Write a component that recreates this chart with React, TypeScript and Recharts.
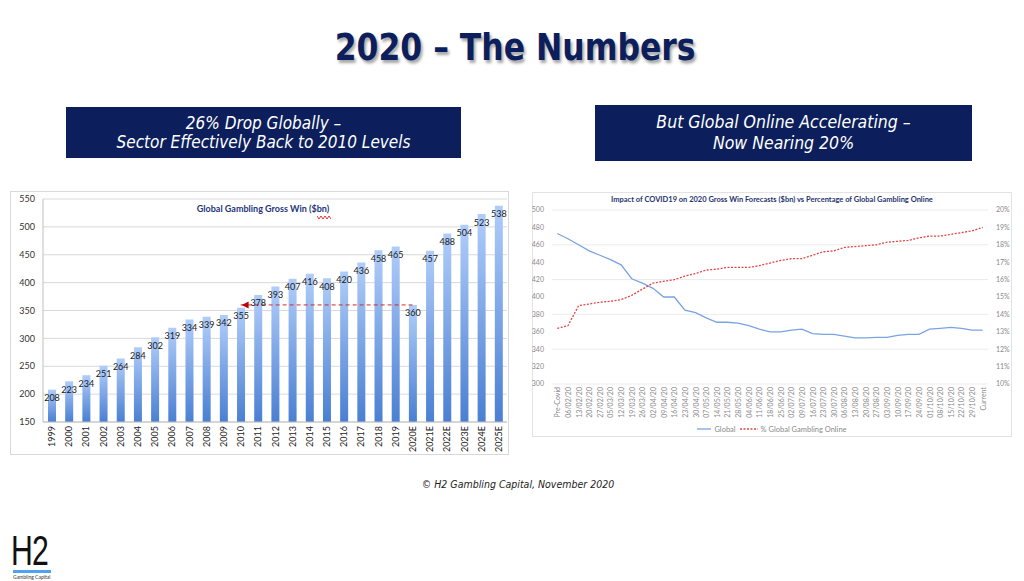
import React from "react";
import {
  BarChart, Bar, XAxis, YAxis, CartesianGrid, LabelList, ReferenceLine, ReferenceDot,
  LineChart, Line, Legend,
} from "recharts";

const years = [
  "1999", "2000", "2001", "2002", "2003", "2004", "2005", "2006", "2007", "2008", "2009",
  "2010", "2011", "2012", "2013", "2014", "2015", "2016", "2017", "2018", "2019",
  "2020E", "2021E", "2022E", "2023E", "2024E", "2025E",
];
const grossWin = [
  208, 223, 234, 251, 264, 284, 302, 319, 334, 339, 342,
  355, 378, 393, 407, 416, 408, 420, 436, 458, 465,
  360, 457, 488, 504, 523, 538,
];
const barTicks = [150, 200, 250, 300, 350, 400, 450, 500, 550];

const weeks = [
  "Pre-Covid", "06/02/20", "13/02/20", "20/02/20", "27/02/20", "05/03/20", "12/03/20",
  "19/03/20", "26/03/20", "02/04/20", "09/04/20", "16/04/20", "23/04/20", "30/04/20",
  "07/05/20", "14/05/20", "21/05/20", "28/05/20", "04/06/20", "11/06/20", "18/06/20",
  "25/06/20", "02/07/20", "09/07/20", "16/07/20", "23/07/20", "30/07/20", "06/08/20",
  "13/08/20", "20/08/20", "27/08/20", "03/09/20", "10/09/20", "17/09/20", "24/09/20",
  "01/10/20", "08/10/20", "15/10/20", "22/10/20", "29/10/20", "Current",
];
const globalWin = [
  473, 467, 460, 453, 448, 443, 437, 421, 416, 410, 400, 400, 385, 382,
  376, 371, 371, 370, 367, 363, 360, 360, 362, 363, 358, 357, 357, 355,
  353, 353, 353.5, 353.5, 356, 357, 357, 363, 364, 365, 364, 362, 362,
];
const onlinePct = [
  13.2, 13.35, 14.5, 14.6, 14.7, 14.75, 14.85, 15.1, 15.45, 15.8, 15.9, 16.0, 16.2, 16.35,
  16.55, 16.6, 16.7, 16.7, 16.7, 16.8, 16.95, 17.1, 17.2, 17.2, 17.4, 17.6, 17.65, 17.85,
  17.9, 17.95, 18.0, 18.15, 18.2, 18.25, 18.4, 18.5, 18.5, 18.6, 18.7, 18.8, 19.0,
];
const winTicks = [300, 320, 340, 360, 380, 400, 420, 440, 460, 480, 500];
const pctTicks = [10, 11, 12, 13, 14, 15, 16, 17, 18, 19, 20];

const barData = years.map((year, i) => ({ year, value: grossWin[i] }));
const lineData = weeks.map((week, i) => ({ week, global: globalWin[i], online: onlinePct[i] }));

const NAVY = "#0c1f5c";
const NARROW = "'Liberation Sans Narrow', 'DejaVu Sans Condensed', sans-serif";

function BarValueLabel(props: any) {
  const { x, y, width, value } = props;
  return (
    <text x={x + width / 2} y={y + 11.5} textAnchor="middle" fontSize={9} fill="#1a1a1a" fontFamily="Lato">
      {value}
    </text>
  );
}

function YearTick(props: any) {
  const { x, y, payload } = props;
  return (
    <text x={x} y={y} transform={`rotate(-90, ${x}, ${y})`} textAnchor="end" dominantBaseline="central"
      fontSize={9} fill="#222" fontFamily="Lato">
      {payload.value}
    </text>
  );
}

function WeekTick(props: any) {
  const { x, y, payload } = props;
  return (
    <text x={x} y={y} transform={`rotate(-90, ${x}, ${y})`} textAnchor="end" dominantBaseline="central"
      fontSize={7} fill="#8a8a8a" fontFamily="Lato">
      {payload.value}
    </text>
  );
}

function ArrowHead(props: any) {
  const { cx, cy } = props;
  return <polygon points={`${cx + 1},${cy} ${cx + 8},${cy - 3.5} ${cx + 8},${cy + 3.5}`} fill="#c00000" />;
}

function LineLegend() {
  return (
    <div style={{ display: "flex", justifyContent: "center", alignItems: "center", height: 14,
      fontFamily: "Lato", fontSize: 7.5, color: "#8a8a8a" }}>
      <svg width={14} height={4}><line x1={0} y1={2} x2={14} y2={2} stroke="#7aa3e2" strokeWidth={1.3} /></svg>
      <span style={{ marginLeft: 3, marginRight: 4 }}>Global</span>
      <svg width={18} height={4}><line x1={0} y1={2} x2={18} y2={2} stroke="#e64545" strokeWidth={1.3} strokeDasharray="2 1.5" /></svg>
      <span style={{ marginLeft: 3 }}>% Global Gambling Online</span>
    </div>
  );
}

export default function App() {
  return (
    <div style={{ position: "absolute", left: 0, top: 0, width: 1024, height: 581, background: "#fff", overflow: "hidden" }}>
      {/* slide title */}
      <div style={{ position: "absolute", left: 0, top: 25, width: 1030, textAlign: "center" }}>
        <span style={{ display: "inline-block", fontFamily: NARROW, fontWeight: 700, fontSize: 38, color: NAVY,
          textShadow: "2px 3px 3px rgba(0,0,0,0.35)", transform: "scaleX(0.92)" }}>
          2020 – The Numbers
        </span>
      </div>

      {/* headline boxes */}
      <div style={{ position: "absolute", left: 66, top: 107, width: 395, height: 51, background: NAVY,
        display: "flex", flexDirection: "column", justifyContent: "center", alignItems: "center",
        color: "#fff", fontFamily: NARROW, fontStyle: "italic", fontSize: 17, lineHeight: "19px" }}>
        <div>26% Drop Globally –</div>
        <div>Sector Effectively Back to 2010 Levels</div>
      </div>
      <div style={{ position: "absolute", left: 595, top: 105, width: 377, height: 56, background: NAVY,
        display: "flex", flexDirection: "column", justifyContent: "center", alignItems: "center",
        color: "#fff", fontFamily: NARROW, fontStyle: "italic", fontSize: 17.5, lineHeight: "21px" }}>
        <div>But Global Online Accelerating –</div>
        <div>Now Nearing 20%</div>
      </div>

      {/* bar chart */}
      <div style={{ position: "absolute", left: 10, top: 191, width: 499, height: 264, border: "1px solid #d9d9d9", boxSizing: "border-box" }} />
      <div style={{ position: "absolute", left: 10, top: 191, width: 499, height: 264 }}>
        <BarChart width={499} height={264} data={barData} margin={{ top: 8, right: 2, bottom: 0, left: 0 }}>
          <defs>
            <linearGradient id="barGrad" x1="0" y1="0" x2="0" y2="1">
              <stop offset="0%" stopColor="#b0cdfa" />
              <stop offset="100%" stopColor="#4a7fd2" />
            </linearGradient>
          </defs>
          <CartesianGrid vertical={false} stroke="#d9d9d9" />
          <XAxis dataKey="year" interval={0} height={33} tickSize={2} tickMargin={2} tickLine={false}
            axisLine={{ stroke: "#bfbfbf" }} tick={<YearTick />} />
          <YAxis width={33} domain={[150, 550]} ticks={barTicks} tickLine={false}
            axisLine={{ stroke: "#bfbfbf" }} tick={{ fontSize: 9, fill: "#333", fontFamily: "Lato" }} />
          <Bar dataKey="value" fill="url(#barGrad)" barSize={8} isAnimationActive={false}>
            <LabelList dataKey="value" content={<BarValueLabel />} />
          </Bar>
          <ReferenceLine segment={[{ x: "2010", y: 360 }, { x: "2020E", y: 360 }]} stroke="#d42a2a"
            strokeWidth={1} strokeDasharray="4 3" />
          <ReferenceDot x="2010" y={360} shape={<ArrowHead />} />
        </BarChart>
      </div>
      <div style={{ position: "absolute", left: 163, top: 203, width: 200, textAlign: "center", fontFamily: "Lato",
        fontWeight: 700, fontSize: 9, color: "#26357a" }}>
        Global Gambling Gross Win ($bn)
      </div>
      <svg style={{ position: "absolute", left: 317, top: 215, width: 14, height: 5 }}>
        <polyline points="0,1 2,4 4,1 6,4 8,1 10,4 12,1 14,4" fill="none" stroke="#e02020" strokeWidth={0.9} />
      </svg>

      {/* line chart */}
      <div style={{ position: "absolute", left: 532, top: 192, width: 480, height: 245, border: "1px solid #e3e3e3", boxSizing: "border-box" }} />
      <div style={{ position: "absolute", left: 532, top: 192, width: 480, height: 245 }}>
        <LineChart width={480} height={245} data={lineData} margin={{ top: 18, right: 0, bottom: 1, left: 0 }}>
          <CartesianGrid vertical={false} stroke="#ebebeb" yAxisId="left" />
          <XAxis dataKey="week" interval={0} height={38} tickSize={1} tickMargin={2} tickLine={false}
            axisLine={false} tick={<WeekTick />} padding={{ left: 5.3, right: 5.3 }} />
          <YAxis yAxisId="left" width={20} domain={[300, 500]} ticks={winTicks} tickLine={false} axisLine={false}
            tick={{ fontSize: 7, fill: "#8a8a8a", fontFamily: "Lato" }} />
          <YAxis yAxisId="right" orientation="right" width={24} domain={[10, 20]} ticks={pctTicks} tickLine={false}
            axisLine={false} tickFormatter={(v: number) => `${v}%`} tick={{ fontSize: 7, fill: "#8a8a8a", fontFamily: "Lato" }} />
          <Line yAxisId="left" dataKey="global" name="Global" type="linear" stroke="#7aa3e2" strokeWidth={1.3}
            dot={false} isAnimationActive={false} />
          <Line yAxisId="right" dataKey="online" name="% Global Gambling Online" type="linear" stroke="#e64545"
            strokeWidth={1.3} strokeDasharray="2 1.5" dot={false} isAnimationActive={false} />
          <Legend verticalAlign="bottom" wrapperStyle={{ height: 14 }} content={<LineLegend />} />
        </LineChart>
      </div>
      <div style={{ position: "absolute", left: 532, top: 195, width: 480, textAlign: "center", fontFamily: "Lato",
        fontWeight: 700, fontSize: 7.5, color: "#253370" }}>
        Impact of COVID19 on 2020 Gross Win Forecasts ($bn) vs Percentage of Global Gambling Online
      </div>

      {/* footer */}
      <div style={{ position: "absolute", left: 318, top: 478, width: 400, textAlign: "center", fontFamily: NARROW,
        fontStyle: "italic", fontSize: 10.5, color: "#222" }}>
        © H2 Gambling Capital, November 2020
      </div>

      {/* logo */}
      <div style={{ position: "absolute", left: 11, top: 530, width: 60, height: 46 }}>
        <div style={{ fontFamily: "'Liberation Sans', sans-serif", fontSize: 42, lineHeight: "42px", color: "#111",
          transform: "scaleX(0.72)", transformOrigin: "left top", letterSpacing: -1 }}>H2</div>
        <div style={{ position: "absolute", left: 2, top: 40, width: 38, height: 3, background: "#4da3f0" }} />
        <div style={{ position: "absolute", left: 2, top: 44, fontFamily: "Lato", fontSize: 5, color: "#333", whiteSpace: "nowrap" }}>
          Gambling Capital
        </div>
      </div>
    </div>
  );
}
